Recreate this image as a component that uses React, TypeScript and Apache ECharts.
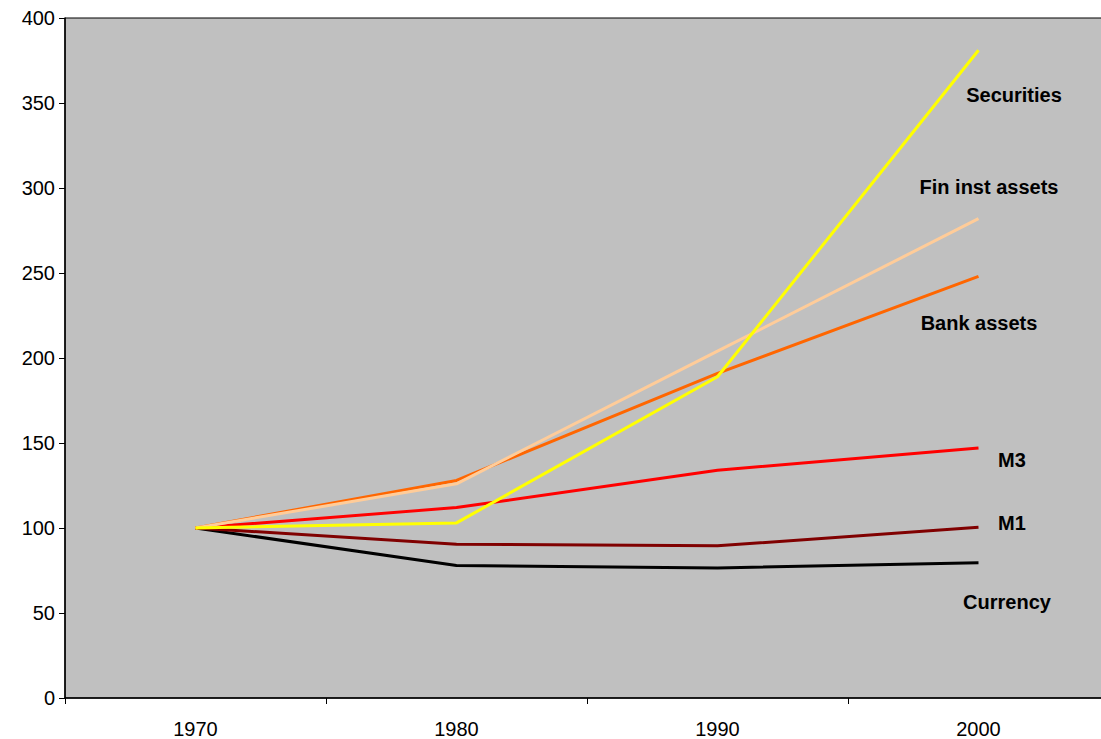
import React, { useEffect, useRef } from "react";
import * as echarts from "echarts";

const years = ["1970", "1980", "1990", "2000"];
const currency = [100, 78, 76.5, 79.5];
const m1 = [100, 90.5, 89.5, 100.5];
const m3 = [100, 112, 134, 147];
const bankAssets = [100, 128, 191, 248];
const finInstAssets = [100, 126, 204, 282];
const securities = [100, 103, 189, 381];
const yTicks = { min: 0, max: 400, interval: 50 };

const seriesDefs = [
  { name: "Currency", data: currency, color: "#000000" },
  { name: "M1", data: m1, color: "#800000" },
  { name: "M3", data: m3, color: "#FF0000" },
  { name: "Bank assets", data: bankAssets, color: "#FF6600" },
  { name: "Fin inst assets", data: finInstAssets, color: "#FFCC99" },
  { name: "Securities", data: securities, color: "#FFFF00" },
];

const labelDefs = [
  { text: "Securities", x: 1014, y: 95 },
  { text: "Fin inst assets", x: 989, y: 187 },
  { text: "Bank assets", x: 979, y: 323 },
  { text: "M3", x: 1012, y: 460 },
  { text: "M1", x: 1012, y: 523 },
  { text: "Currency", x: 1007, y: 602 },
];

export default function App() {
  const ref = useRef<HTMLDivElement>(null);
  useEffect(() => {
    if (!ref.current) return;
    const chart = echarts.init(ref.current, null, { renderer: "svg" });
    const font = "'Liberation Sans', Arial, sans-serif";
    chart.setOption({
      animation: false,
      textStyle: { fontFamily: font },
      grid: {
        left: 65,
        top: 18,
        right: 11,
        bottom: 41,
        show: true,
        backgroundColor: "#C0C0C0",
        borderColor: "#000000",
        borderWidth: 1,
      },
      xAxis: {
        type: "category",
        data: years,
        boundaryGap: true,
        axisLine: { lineStyle: { color: "#000", width: 1.5 } },
        axisTick: { show: true, length: 6, interval: 0, lineStyle: { color: "#000" } },
        axisLabel: { color: "#000", fontSize: 20, margin: 21, fontFamily: font },
        splitLine: { show: false },
      },
      yAxis: {
        type: "value",
        min: yTicks.min,
        max: yTicks.max,
        interval: yTicks.interval,
        axisLine: { show: true, lineStyle: { color: "#000", width: 1.5 } },
        axisTick: { show: true, length: 6, lineStyle: { color: "#000" } },
        axisLabel: { color: "#000", fontSize: 20, margin: 10, fontFamily: font },
        splitLine: { show: false },
      },
      series: seriesDefs.map((s) => ({
        name: s.name,
        type: "line",
        data: s.data,
        symbol: "none",
        lineStyle: { color: s.color, width: 3 },
        itemStyle: { color: s.color },
      })),
      graphic: labelDefs.map((l) => ({
        type: "text",
        x: l.x,
        y: l.y,
        style: {
          text: l.text,
          fill: "#000",
          font: `bold 20px ${font}`,
          align: "center",
          verticalAlign: "middle",
        },
      })),
    });
    return () => chart.dispose();
  }, []);
  return (
    <div
      style={{
        position: "fixed",
        left: 0,
        top: 0,
        width: 1101,
        height: 739,
        overflow: "hidden",
        background: "#fff",
      }}
    >
      <div ref={ref} style={{ width: 1120, height: 739 }} />
    </div>
  );
}
